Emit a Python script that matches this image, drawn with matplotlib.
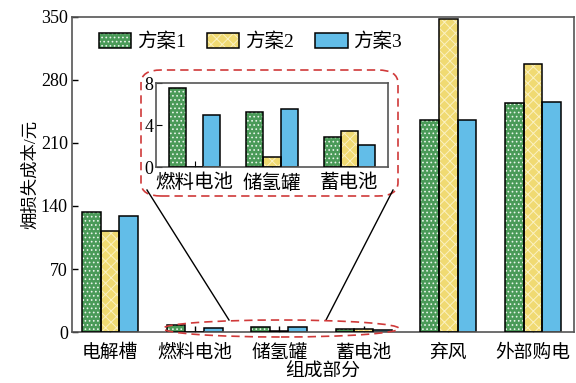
import matplotlib
matplotlib.use("Agg")
import matplotlib.pyplot as plt
import numpy as np
from matplotlib.patches import FancyBboxPatch, Ellipse, Patch
from matplotlib.lines import Line2D
from matplotlib.legend_handler import HandlerTuple

plt.rcParams['font.family'] = ['Liberation Serif', 'Noto Sans CJK SC']
plt.rcParams['hatch.linewidth'] = 0.7

categories = ['电解槽', '燃料电池', '储氢罐', '蓄电池', '弃风', '外部购电']
series_names = ['方案1', '方案2', '方案3']
plan1 = [133, 7.5, 5.2, 2.9, 236, 254]
plan2 = [112, 0.0, 1.0, 3.4, 348, 298]
plan3 = [129, 5.0, 5.5, 2.1, 236, 255]
inset_categories = ['燃料电池', '储氢罐', '蓄电池']
inset_idx = [1, 2, 3]
yticks_main = [0, 70, 140, 210, 280, 350]
yticks_inset = [0, 4, 8]

face = ['#4a9a58', '#f0da72', '#62bde8']
hatches = ['....', 'xxx', None]
hcolor = ['#e8f4ea', '#fbf1c2', None]

fig = plt.figure(figsize=(5.76, 3.83), dpi=100)
ax = fig.add_axes([0.125, 0.133, 0.872, 0.823])

w = 0.22
x = np.arange(len(categories))
series = [plan1, plan2, plan3]

def draw_bars(a, xs, vals, i):
    pos = xs + (i - 1) * w
    if hatches[i]:
        a.bar(pos, vals, w, color=face[i], hatch=hatches[i], edgecolor=hcolor[i], linewidth=0, zorder=2)
        a.bar(pos, vals, w, fill=False, edgecolor='black', linewidth=1.1, zorder=3)
    else:
        a.bar(pos, vals, w, color=face[i], edgecolor='black', linewidth=1.1, zorder=2)

for i, s in enumerate(series):
    draw_bars(ax, x, np.array(s), i)

ax.set_xlim(-0.45, len(categories) - 1 + 0.49)
ax.set_ylim(0, 350)
ax.set_yticks(yticks_main)
ax.set_xticks(x)
ax.set_xticklabels(categories, fontsize=13.5)
ax.tick_params(axis='x', direction='in', length=4, width=1, pad=9)
ax.tick_params(axis='y', direction='in', length=4, width=1, labelsize=13, pad=3)
ax.set_ylabel('㶲损失成本/元', fontsize=12.5, labelpad=1)
ax.set_xlabel('组成部分', fontsize=13.5, labelpad=1)
for sp in ax.spines.values():
    sp.set_color('#555555')
    sp.set_linewidth(1.2)

handles = []
for i in range(3):
    if hatches[i]:
        handles.append((Patch(facecolor=face[i], hatch=hatches[i], edgecolor=hcolor[i], linewidth=0),
                        Patch(fill=False, edgecolor='black', linewidth=1.1)))
    else:
        handles.append(Patch(facecolor=face[i], edgecolor='black', linewidth=1.1))
leg = ax.legend(handles, series_names, loc='upper left', ncol=3, frameon=False,
                fontsize=14, bbox_to_anchor=(0.054, 0.95), borderaxespad=0, borderpad=0,
                handlelength=1.65, handleheight=0.85, columnspacing=1.1, handletextpad=0.3,
                handler_map={tuple: HandlerTuple(ndivide=1, pad=0)})

# inset
axin = fig.add_axes([156 / 576, 1 - 167 / 383, 232 / 576, 84 / 383])
xi = np.arange(len(inset_categories))
for i, s in enumerate(series):
    vals = np.array([s[k] for k in inset_idx])
    draw_bars(axin, xi, vals, i)
axin.set_xlim(-0.5, 2.5)
axin.set_ylim(0, 8)
axin.set_yticks(yticks_inset)
axin.set_xticks(xi)
axin.set_xticklabels(inset_categories, fontsize=14)
axin.tick_params(axis='x', direction='in', length=4, pad=5)
axin.tick_params(axis='y', direction='in', length=4, labelsize=13, pad=2)
for sp in axin.spines.values():
    sp.set_color('#555555')
    sp.set_linewidth(1.2)

red = '#d03a3a'
box = FancyBboxPatch((141 / 576, 1 - 196 / 383), 257 / 576, 126 / 383,
                     boxstyle='round,pad=0,rounding_size=0.035', transform=fig.transFigure,
                     fill=False, edgecolor=red, linestyle=(0, (5, 3)), linewidth=1.2)
fig.patches.append(box)
ell = Ellipse((281 / 576, 1 - 328.5 / 383), 236 / 576, 17 / 383, transform=fig.transFigure,
              fill=False, edgecolor=red, linestyle=(0, (5, 3)), linewidth=1.2, zorder=5)
fig.patches.append(ell)
fig.lines.append(Line2D([147 / 576, 229 / 576], [1 - 190 / 383, 1 - 320 / 383],
                        transform=fig.transFigure, color='black', linewidth=1))
fig.lines.append(Line2D([393 / 576, 326 / 576], [1 - 190 / 383, 1 - 320 / 383],
                        transform=fig.transFigure, color='black', linewidth=1))

fig.savefig('out.png', dpi=100)
